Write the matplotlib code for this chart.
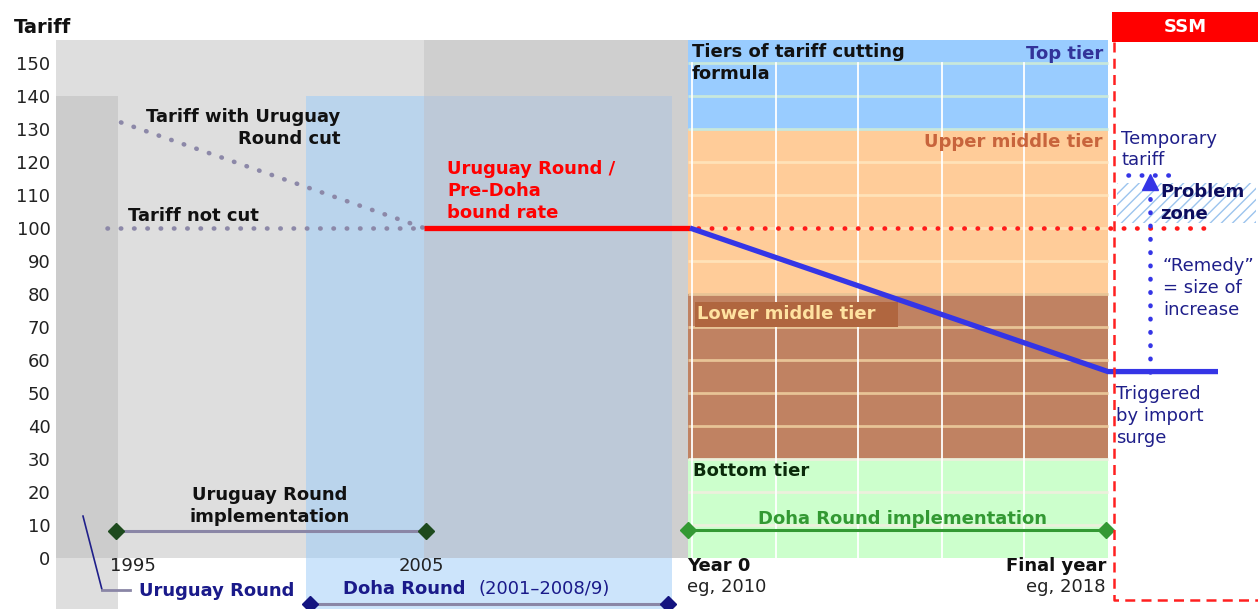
import matplotlib
matplotlib.use("Agg")
import matplotlib.pyplot as plt
from matplotlib.patches import Rectangle

# ---------------- data ----------------
tariff_ticks = list(range(0, 151, 10))
tariff_not_cut = 100
uruguay_start_tariff = 132
bound_rate = 100
final_doha_rate = 56.5
tier_bounds = [0, 30, 80, 130, 157]
tier_names = ["Bottom tier", "Lower middle tier", "Upper middle tier", "Top tier"]
temporary_tariff = 116
problem_zone = [101.5, 113.5]
implementation_level = 8.3
period_labels = ["1995", "2005"]
doha_labels = ["Year 0", "eg, 2010", "Final year", "eg, 2018"]

# ---------------- layout (horizontal positions, pixel-like units) ----------------
X_PLOT = 56
X_BAND = 118
X_1995 = 116
X_2005 = 426
X_UR_END = 424
X_DOHA0, X_DOHA1 = 306, 672
X_GRAY_END = 688
X_Y0 = 690
X_FINAL = 1108
X_SSM = 1114
X_RIGHT = 1258
Y_BOTTOM, Y_TOP = -15.45, 169.1

FS = 13
LS = 1.27
NAVY = "#1f1f8a"

fig = plt.figure(figsize=(12.58, 6.09), dpi=100)
ax = fig.add_axes([X_PLOT / 1258, 0, (X_RIGHT - X_PLOT) / 1258, 1])
ax.set_xlim(X_PLOT, X_RIGHT)
ax.set_ylim(Y_BOTTOM, Y_TOP)
ax.patch.set_alpha(0)
for s in ax.spines.values():
    s.set_visible(False)
ax.set_xticks([])
ax.set_yticks(tariff_ticks)
ax.set_yticklabels([str(t) for t in tariff_ticks], fontsize=FS, color="#222222")
ax.tick_params(axis="y", length=0, pad=4)

top = tier_bounds[-1]

def rect(x0, x1, y0, y1, color, z=1, **kw):
    ax.add_patch(Rectangle((x0, y0), x1 - x0, y1 - y0, facecolor=color,
                           edgecolor="none", zorder=z, clip_on=False, **kw))

# grey backgrounds
rect(X_PLOT, X_UR_END, 0, top, "#dedede")
rect(X_UR_END, X_GRAY_END, 0, top, "#cfcfcf")
rect(X_PLOT, X_BAND, 0, 140, "#cccccc", z=1.2)
rect(X_PLOT, X_BAND, Y_BOTTOM, 0, "#dedede", z=1.2)
# Doha round period
rect(X_DOHA0, X_UR_END, 0, 140, "#bad4ec", z=1.3)
rect(X_UR_END, X_DOHA1, 0, 140, "#bdc9d8", z=1.3)
rect(X_DOHA0, X_DOHA1, Y_BOTTOM, 0, "#cce4fb", z=1.3)

# tiers
tier_colors = ["#ccffcc", "#c08262", "#ffcc99", "#99ccff"]
line_colors = ["#ecf0dc", "#e8c496", "#ffe2b8", "#c8e8dc"]
for i in range(4):
    rect(X_GRAY_END, X_FINAL, tier_bounds[i], tier_bounds[i + 1], tier_colors[i], z=1.5)
for t in tariff_ticks[1:]:
    idx = max(i for i in range(4) if tier_bounds[i] <= t)
    if t == tier_bounds[idx]:
        idx = idx - 1 if t != 130 else idx
    ax.plot([X_GRAY_END, X_FINAL], [t, t], color=line_colors[idx], lw=2, zorder=1.6,
            solid_capstyle="butt")
for gx in [692, 776, 858, 942, 1024]:
    ax.plot([gx, gx], [0, 150], color="white", lw=1.3, zorder=1.7)

# Lower middle tier label box
rect(695, 898, 70, 77.6, "#b0663f", z=1.8)

# tier labels
ax.text(692, 150, "Tiers of tariff cutting\nformula", fontsize=FS, fontweight="bold",
        color="#111111", ha="left", va="center", linespacing=LS, zorder=5)
ax.text(1103, 152.7, tier_names[3], fontsize=FS, fontweight="bold", color="#333399",
        ha="right", va="center", zorder=5)
ax.text(1102, 126, tier_names[2], fontsize=FS, fontweight="bold", color="#c8643c",
        ha="right", va="center", zorder=5)
ax.text(697, 73.9, tier_names[1], fontsize=FS, fontweight="bold", color="#ffe2a0",
        ha="left", va="center", zorder=5)
ax.text(693, 26.4, tier_names[0], fontsize=FS, fontweight="bold", color="#0a2a0a",
        ha="left", va="center", zorder=5)

dot = dict(linestyle=(0, (0.1, 2.8)), dash_capstyle="round", lw=3.3)

# grey dotted lines
ax.plot([107, X_UR_END], [tariff_not_cut, tariff_not_cut], color="#8c88a8", zorder=3, **dot)
ax.plot([121, X_UR_END], [uruguay_start_tariff, bound_rate], color="#8c88a8", zorder=3, **dot)
ax.text(340, 130.3, "Tariff with Uruguay\nRound cut", fontsize=FS, fontweight="bold",
        color="#111111", ha="right", va="center", multialignment="right",
        linespacing=LS, zorder=5)
ax.text(128, 103.6, "Tariff not cut", fontsize=FS, fontweight="bold", color="#111111",
        ha="left", va="center", zorder=5)

# red bound rate
ax.plot([X_UR_END, X_Y0], [bound_rate, bound_rate], color="#ff0000", lw=3.8,
        solid_capstyle="butt", zorder=4)
ax.plot([X_Y0 + 8, 1208], [bound_rate, bound_rate], color="#ff1a1a", zorder=4, **dot)
ax.text(447, 111.2, "Uruguay Round /\nPre-Doha\nbound rate", fontsize=FS,
        fontweight="bold", color="#ff0000", ha="left", va="center",
        linespacing=LS, zorder=5)

# blue Doha cut line + SSM
ax.plot([X_Y0, X_FINAL, 1218], [bound_rate, final_doha_rate, final_doha_rate],
        color="#3535e6", lw=3.8, solid_capstyle="butt", solid_joinstyle="miter", zorder=4)

# implementation bars
ax.plot([X_1995, X_2005], [implementation_level, implementation_level], color="#8a86a6",
        lw=2.2, zorder=3)
ax.plot([X_1995, X_2005], [implementation_level, implementation_level], ls="none",
        marker="D", ms=8, color="#1d4a1d", zorder=4)
ax.text(270, 15.8, "Uruguay Round\nimplementation", fontsize=FS, fontweight="bold",
        color="#111111", ha="center", va="center", linespacing=LS, zorder=5)
ax.plot([X_GRAY_END, X_FINAL - 2], [8.5, 8.5], color="#339933", lw=2.2, zorder=3)
ax.plot([X_GRAY_END, X_FINAL - 2], [8.5, 8.5], ls="none", marker="D", ms=8,
        color="#339933", zorder=4, clip_on=False)
ax.text(902, 11.8, "Doha Round implementation", fontsize=FS, fontweight="bold",
        color="#339933", ha="center", va="center", zorder=5)

# x labels
ax.text(133, -2.4, period_labels[0], fontsize=FS, color="#222222", ha="center", va="center")
ax.text(421, -2.4, period_labels[1], fontsize=FS, color="#222222", ha="center", va="center")
ax.text(687, -2.4, doha_labels[0], fontsize=FS, fontweight="bold", color="#111111",
        ha="left", va="center")
ax.text(687, -8.8, doha_labels[1], fontsize=FS, color="#222222", ha="left", va="center")
ax.text(1106, -2.4, doha_labels[2], fontsize=FS, fontweight="bold", color="#111111",
        ha="right", va="center")
ax.text(1106, -8.8, doha_labels[3], fontsize=FS, color="#222222", ha="right", va="center")

# round labels below axis
ax.plot([83, 102], [12.7, -9.6], color=NAVY, lw=1.2, zorder=3, clip_on=False)
ax.plot([102, 130], [-9.6, -9.6], color="#8a86a6", lw=2, zorder=3, clip_on=False)
ax.text(139, -10.0, "Uruguay Round", fontsize=FS, fontweight="bold", color="#1a1a8a",
        ha="left", va="center")
ax.text(343, -9.4, "Doha Round", fontsize=FS, fontweight="bold", color="#1a1a8a",
        ha="left", va="center")
ax.text(478, -9.4, "(2001\u20132008/9)", fontsize=FS, color="#1a1a8a",
        ha="left", va="center")
ax.plot([310, 668], [-13.9, -13.9], color="#8a86a6", lw=2.2, zorder=3, clip_on=False)
ax.plot([310, 668], [-13.9, -13.9], ls="none", marker="D", ms=8, color="#141480",
        zorder=4, clip_on=False)

# SSM header and dashed frame
rect(1112, X_RIGHT, 156.4, 165.5, "#ff0000", z=5)
ax.text(1185, 160.9, "SSM", fontsize=FS, fontweight="bold", color="white",
        ha="center", va="center", zorder=6)
ax.plot([X_SSM, X_SSM, X_RIGHT], [156.4, -12.7, -12.7], color="#ff2020", lw=1.8,
        linestyle=(0, (4, 2.5)), zorder=5, clip_on=False)

# problem zone
ax.add_patch(Rectangle((1117, problem_zone[0]), 139, problem_zone[1] - problem_zone[0],
                       fill=False, hatch="///", edgecolor="#9cc4ee", lw=0, zorder=2))
ax.plot([1128, 1180], [temporary_tariff, temporary_tariff], color="#3535e6", zorder=4, **dot)
ax.plot([1150, 1150], [final_doha_rate, problem_zone[1] - 1.5], color="#3535e6",
        zorder=4, **dot)
ax.plot([1150], [problem_zone[1] + 0.3], marker="^", ms=12, color="#3535e6", zorder=4)

ax.text(1121, 123.8, "Temporary\ntariff", fontsize=FS, color=NAVY, ha="left",
        va="center", linespacing=LS)
ax.text(1160, 107.6, "Problem\nzone", fontsize=FS, fontweight="bold", color="#0d0d5e",
        ha="left", va="center", linespacing=LS, zorder=6)
ax.text(1163, 81.8, "\u201cRemedy\u201d\n= size of\nincrease", fontsize=FS, color=NAVY,
        ha="left", va="center", linespacing=LS)
ax.text(1116, 43, "Triggered\nby import\nsurge", fontsize=FS, color=NAVY, ha="left",
        va="center", linespacing=LS)

# axis title
ax.text(14, 160.9, "Tariff", fontsize=FS + 1, fontweight="bold", color="#111111",
        ha="left", va="center", clip_on=False)

fig.savefig("out.png", dpi=100, facecolor="white")
